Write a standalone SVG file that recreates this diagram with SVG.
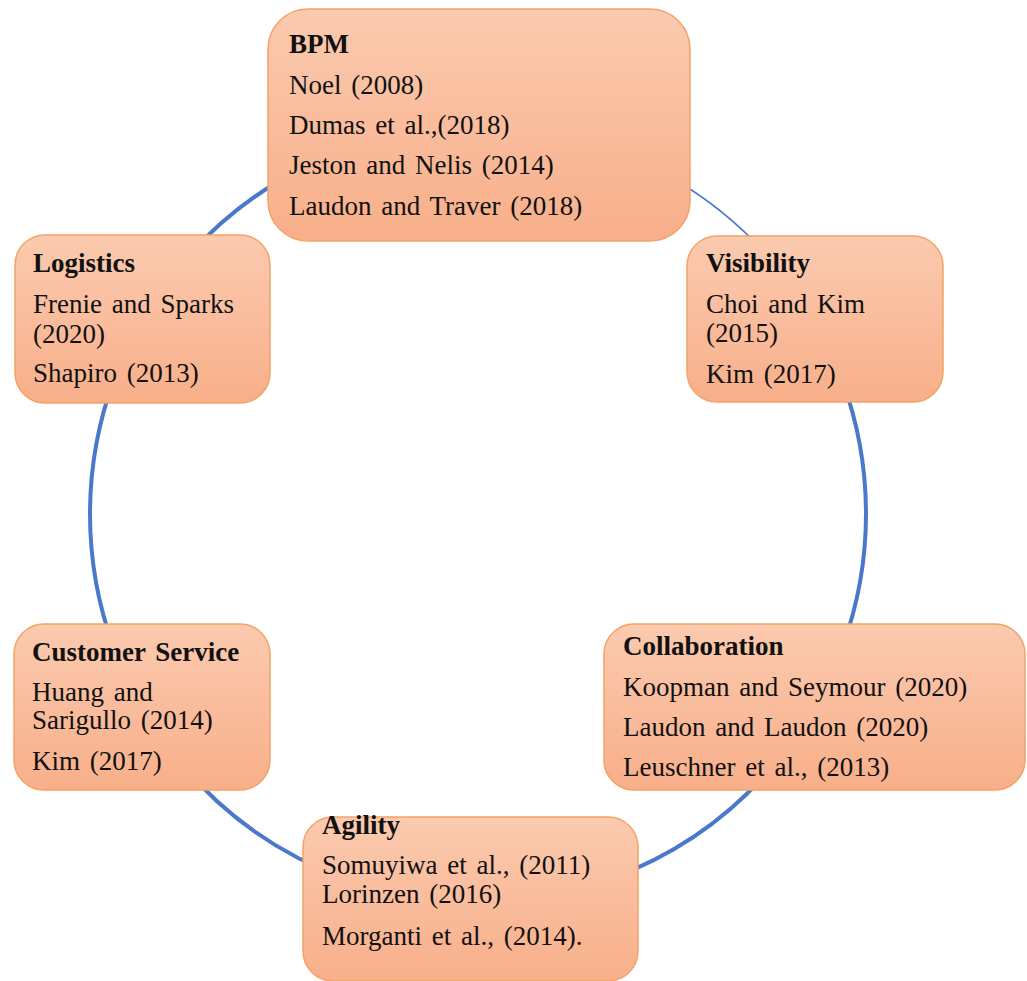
<svg xmlns="http://www.w3.org/2000/svg" width="1027" height="981" viewBox="0 0 1027 981">
  <defs>
    <linearGradient id="boxFill" x1="0" y1="0" x2="0" y2="1">
      <stop offset="0" stop-color="#FBCAAF"/>
      <stop offset="1" stop-color="#F8AF8A"/>
    </linearGradient>
  </defs>
  <style>
    .box { fill: url(#boxFill); stroke: #F4A268; stroke-width: 1.5; }
    .ring { fill: none; stroke: #4A78CC; stroke-width: 4; }
    .ring.thin { stroke-width: 1.6; }
    text { font-family: "Liberation Serif", "Times New Roman", serif; font-size: 27px; fill: #111; word-spacing: 3px; }
    .title { font-weight: bold; }
  </style>

  <rect width="1027" height="981" fill="#ffffff"/>

  <!-- circular flow linking the topics (centre 478,514, radius 388) -->
  <g id="connectors">
    <path class="ring thin" d="M 672 178 A 388 388 0 0 1 775.2 264.6"/>
    <path class="ring" d="M 842.6 381.3 A 388 388 0 0 1 842.6 646.7"/>
    <path class="ring" d="M 775.2 763.4 A 388 388 0 0 1 610.7 878.6"/>
    <path class="ring" d="M 345.3 878.6 A 388 388 0 0 1 180.8 763.4"/>
    <path class="ring" d="M 113.4 646.7 A 388 388 0 0 1 113.4 381.3"/>
    <path class="ring" d="M 180.8 264.6 A 388 388 0 0 1 284 178"/>
  </g>

  <g id="bpm">
    <rect class="box" x="268" y="9" width="422" height="232" rx="40" ry="40"/>
    <text class="title" x="289" y="53">BPM</text>
    <text x="289" y="94">Noel (2008)</text>
    <text x="289" y="134">Dumas et al.,(2018)</text>
    <text x="289" y="174">Jeston and Nelis (2014)</text>
    <text x="289" y="215">Laudon and Traver (2018)</text>
  </g>

  <g id="visibility">
    <rect class="box" x="687" y="236" width="256" height="166" rx="30" ry="30"/>
    <text class="title" x="706" y="272">Visibility</text>
    <text x="706" y="313">Choi and Kim</text>
    <text x="706" y="342">(2015)</text>
    <text x="706" y="383">Kim (2017)</text>
  </g>

  <g id="logistics">
    <rect class="box" x="15" y="235" width="255" height="168" rx="30" ry="30"/>
    <text class="title" x="33" y="272">Logistics</text>
    <text x="33" y="313">Frenie and Sparks</text>
    <text x="33" y="343">(2020)</text>
    <text x="33" y="382">Shapiro (2013)</text>
  </g>

  <g id="collaboration">
    <rect class="box" x="604" y="624" width="421" height="166" rx="30" ry="30"/>
    <text class="title" x="623" y="655">Collaboration</text>
    <text x="623" y="696">Koopman and Seymour (2020)</text>
    <text x="623" y="736">Laudon and Laudon (2020)</text>
    <text x="623" y="776">Leuschner et al., (2013)</text>
  </g>

  <g id="customer-service">
    <rect class="box" x="14" y="624" width="256" height="166" rx="30" ry="30"/>
    <text class="title" x="32" y="661">Customer Service</text>
    <text x="32" y="701">Huang and</text>
    <text x="32" y="729">Sarigullo (2014)</text>
    <text x="32" y="770">Kim (2017)</text>
  </g>

  <g id="agility">
    <rect class="box" x="303" y="817" width="335" height="164" rx="30" ry="30"/>
    <text class="title" x="322" y="834">Agility</text>
    <text x="322" y="874">Somuyiwa et al., (2011)</text>
    <text x="322" y="903">Lorinzen (2016)</text>
    <text x="322" y="945">Morganti et al., (2014).</text>
  </g>
</svg>
